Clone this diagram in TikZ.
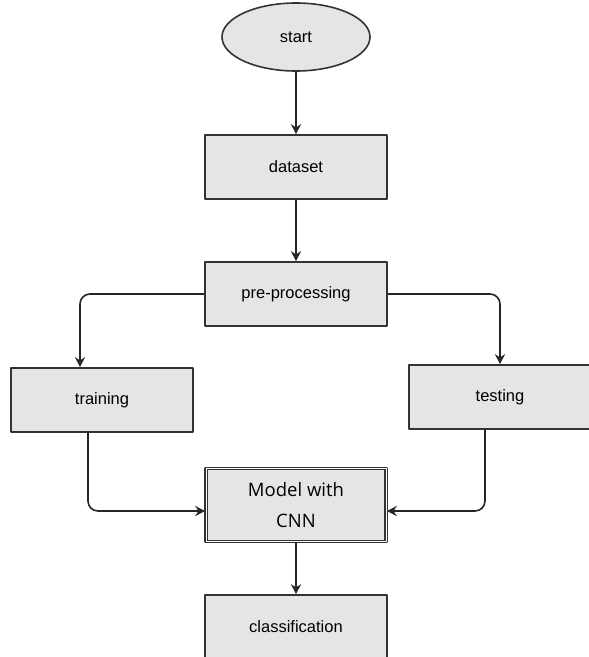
\documentclass[tikz,border=0pt]{standalone}
\usepackage{fontspec}
\setmainfont{Liberation Sans}
\newfontfamily\modelfont{Open Sans}
\usetikzlibrary{shapes.geometric,arrows.meta}
\begin{document}
\begin{tikzpicture}[x=1pt,y=-1pt,line join=round,>={Stealth[length=10pt,width=10pt]},line width=1.6pt,font=\fontsize{16.5}{18}\selectfont]
	\tikzset{
		flowbox/.style={draw=black!80,fill=black!10,minimum width=182pt,minimum height=64pt,inner sep=0pt},
		flowline/.style={->,draw=black!85,rounded corners=10pt}
	}
	\useasboundingbox (0,0) rectangle (589,657);
	\clip (0,0) rectangle (589,657);
	\node[ellipse,draw=black!80,fill=black!10,minimum width=148pt,minimum height=68pt] (start) at (296,37) {start};
	\node[flowbox] (dataset) at (296,167) {dataset};
	\node[flowbox] (prep) at (296,294) {pre-processing};
	\node[flowbox] (train) at (102,400) {training};
	\node[flowbox] (test) at (500,397) {testing};
	\node[flowbox,minimum width=180pt,minimum height=73pt,double,double distance=0.6pt,
		font=\modelfont\fontsize{18.5}{31}\selectfont,align=center] (model) at (296,505) {Model with\\CNN};
	\node[flowbox] (class) at (296,627) {classification};
	\draw[flowline] (start) -- (dataset);
	\draw[flowline] (dataset) -- (prep);
	\draw[flowline] (prep.west) -| ([xshift=-22pt]train.north);
	\draw[flowline] (prep.east) -| (test.north);
	\draw[flowline] ([xshift=-14pt]train.south) |- ([yshift=-6pt]model.west);
	\draw[flowline] ([xshift=-15pt]test.south) |- ([yshift=-6pt]model.east);
	\draw[flowline] (model) -- (class);
\end{tikzpicture}
\end{document}
